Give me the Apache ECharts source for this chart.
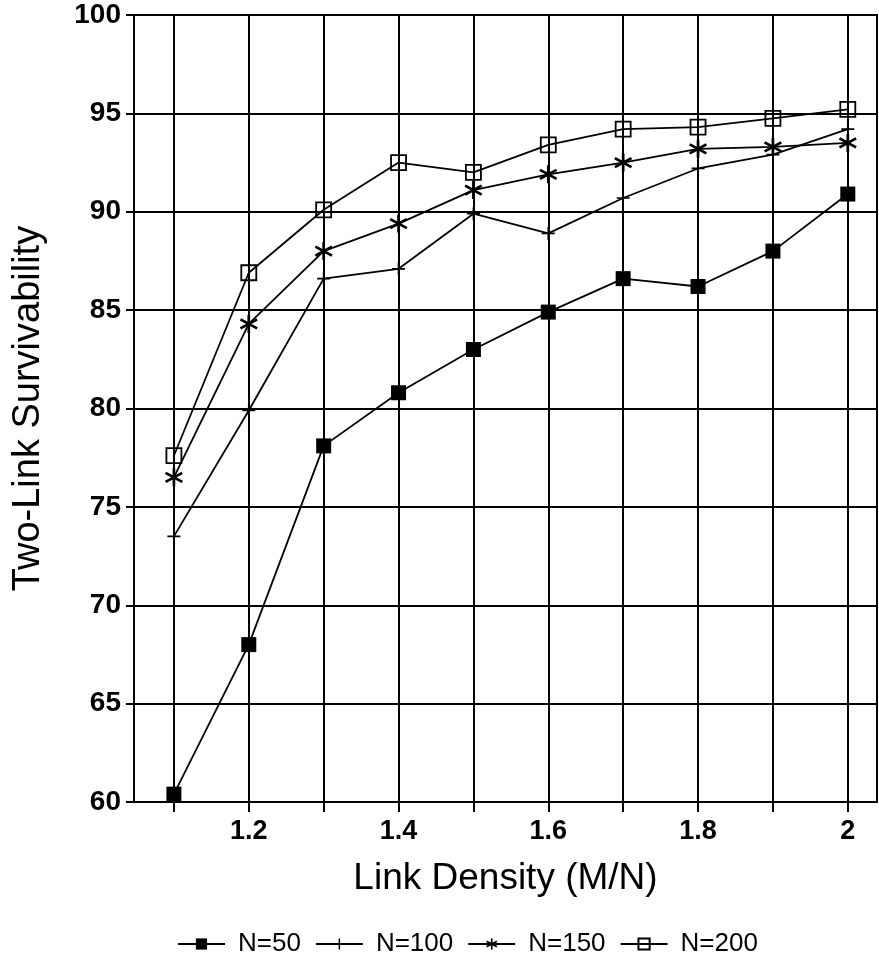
<!DOCTYPE html>
<html>
<head>
<meta charset="utf-8">
<script src="https://cdn.jsdelivr.net/npm/echarts@6/dist/echarts.min.js"></script>
<style>
html,body{margin:0;padding:0;background:#fff;}
#c{width:879px;height:955px;}
</style>
</head>
<body>
<div id="c"></div>
<script>
const xValues = [1.1, 1.2, 1.3, 1.4, 1.5, 1.6, 1.7, 1.8, 1.9, 2.0];
const xLabelValues = [1.2, 1.4, 1.6, 1.8, 2.0];
const seriesNames = ['N=50', 'N=100', 'N=150', 'N=200'];
const n50  = [60.4, 68.0, 78.1, 80.8, 83.0, 84.9, 86.6, 86.2, 88.0, 90.9];
const n100 = [73.5, 79.9, 86.6, 87.1, 89.9, 88.9, 90.7, 92.2, 92.9, 94.2];
const n150 = [76.5, 84.3, 88.0, 89.4, 91.1, 91.9, 92.5, 93.2, 93.3, 93.5];
const n200 = [77.6, 86.9, 90.1, 92.5, 92.0, 93.4, 94.2, 94.3, 94.75, 95.2];

const plusPath = 'path://M-1.3,-10H1.3V-1.3H10V1.3H1.3V10H-1.3V1.3H-10V-1.3H-1.3Z';
const starPath = 'path://M-1.4,-10H1.4V10H-1.4Z' +
  'M-9.36,-3.79L-7.96,-6.21L9.36,3.79L7.96,6.21Z' +
  'M-7.96,6.21L-9.36,3.79L7.96,-6.21L9.36,-3.79Z';

function pairs(arr){ return xValues.map((x,i)=>[x, arr[i]]); }

const font = '"Liberation Sans", Arial, Helvetica, sans-serif';
const chart = echarts.init(document.getElementById('c'), null, {renderer:'canvas'});

const lineStyle = {color:'#000', width:1.8};
const option = {
  animation:false,
  backgroundColor:'#fff',
  textStyle:{fontFamily:font, color:'#000'},
  grid:{left:134, right:2, top:15, bottom:153, show:true, borderColor:'#000', borderWidth:2},
  legend:{
    left:172, top:926,
    itemWidth:47, itemHeight:14, itemGap:14,
    textStyle:{fontFamily:font, fontSize:26, color:'#000', padding:[0,0,0,8]},
    data:seriesNames
  },
  xAxis:{
    type:'value', min:1.0467, max:2.039,
    name:'Link Density (M/N)', nameLocation:'middle', nameGap:58,
    nameTextStyle:{fontFamily:font, fontSize:37, color:'#000'},
    axisLine:{show:true, onZero:false, lineStyle:{color:'#000', width:2}},
    axisTick:{show:true, inside:false, length:10, customValues:xValues, lineStyle:{color:'#000', width:2}},
    axisLabel:{customValues:xLabelValues, margin:16, fontFamily:font, fontSize:27, fontWeight:'bold', color:'#000',
      formatter:v=>String(Math.round(v*10)/10)},
    splitLine:{show:true, lineStyle:{color:'#000', width:2}}
  },
  yAxis:{
    type:'value', min:60, max:100, interval:5,
    name:'Two-Link Survivability', nameLocation:'middle', nameGap:86, nameRotate:90,
    nameTextStyle:{fontFamily:font, fontSize:38, color:'#000'},
    axisLine:{show:true, lineStyle:{color:'#000', width:2}},
    axisTick:{show:true, inside:false, length:8, lineStyle:{color:'#000', width:2}},
    axisLabel:{margin:13, fontFamily:font, fontSize:28, fontWeight:'bold', color:'#000'},
    splitLine:{show:true, lineStyle:{color:'#000', width:2}}
  },
  series:[
    {name:'N=50', type:'line', data:pairs(n50), symbol:'rect', symbolSize:15,
      itemStyle:{color:'#000'}, lineStyle:lineStyle, z:5},
    {name:'N=100', type:'line', data:pairs(n100), symbol:plusPath, symbolSize:13,
      itemStyle:{color:'#000'}, lineStyle:lineStyle, z:4},
    {name:'N=150', type:'line', data:pairs(n150), symbol:starPath, symbolSize:18,
      itemStyle:{color:'#000'}, lineStyle:lineStyle, z:4},
    {name:'N=200', type:'line', data:pairs(n200), symbol:'rect', symbolSize:15,
      itemStyle:{color:'rgba(0,0,0,0)', borderColor:'#000', borderWidth:1.8}, lineStyle:lineStyle, z:4}
  ]
};
chart.setOption(option);
</script>
</body>
</html>
